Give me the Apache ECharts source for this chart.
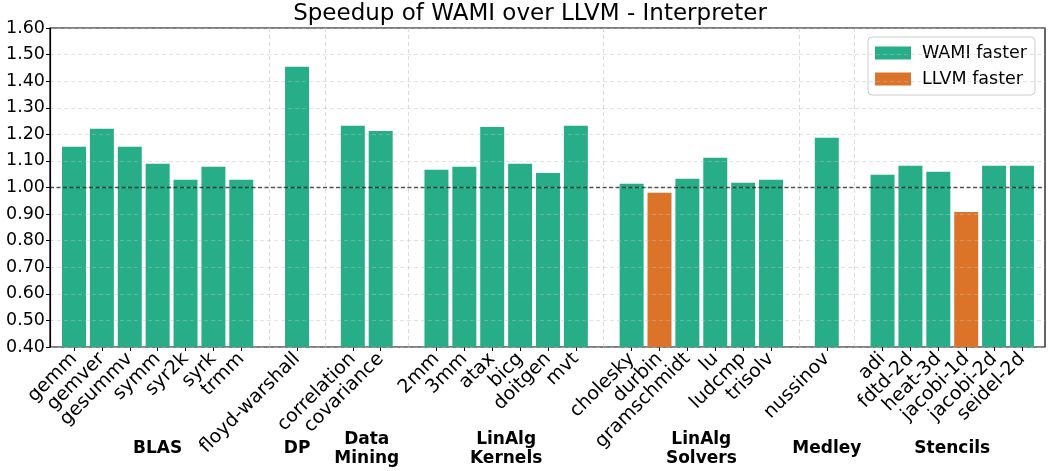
<!DOCTYPE html>
<html>
<head>
<meta charset="utf-8">
<script src="https://cdn.jsdelivr.net/npm/echarts@6/dist/echarts.min.js"></script>
<style>html,body{margin:0;padding:0;background:#fff}#c{width:1049px;height:471px}</style>
</head>
<body>
<div id="c"></div>
<script>
// ---- data ----
const groupNames = ['BLAS', 'DP', 'Data\nMining', 'LinAlg\nKernels', 'LinAlg\nSolvers', 'Medley', 'Stencils'];
const groupBenchmarks = [
  ['gemm', 'gemver', 'gesummv', 'symm', 'syr2k', 'syrk', 'trmm'],
  ['floyd-warshall'],
  ['correlation', 'covariance'],
  ['2mm', '3mm', 'atax', 'bicg', 'doitgen', 'mvt'],
  ['cholesky', 'durbin', 'gramschmidt', 'lu', 'ludcmp', 'trisolv'],
  ['nussinov'],
  ['adi', 'fdtd-2d', 'heat-3d', 'jacobi-1d', 'jacobi-2d', 'seidel-2d']
];
const groupSpeedups = [
  [1.153, 1.221, 1.153, 1.089, 1.029, 1.078, 1.029],
  [1.454],
  [1.232, 1.213],
  [1.067, 1.078, 1.228, 1.089, 1.055, 1.232],
  [1.014, 0.980, 1.033, 1.112, 1.018, 1.029],
  [1.187],
  [1.048, 1.082, 1.059, 0.908, 1.082, 1.082]
];
const yTicks = { min: 0.4, max: 1.6, step: 0.1 };
const legendNames = ['WAMI faster', 'LLVM faster'];

// ---- build flat category list with gap slots between groups ----
const categories = [];
const speedup = [];
const gapIdx = [];
const groupRanges = [];
groupBenchmarks.forEach((names, g) => {
  if (g > 0) { gapIdx.push(categories.length); categories.push(''); speedup.push(null); }
  const start = categories.length;
  names.forEach((n, i) => { categories.push(n); speedup.push(groupSpeedups[g][i]); });
  groupRanges.push([start, categories.length - 1]);
});
const fasterW = speedup.map(v => (v != null && v >= 1) ? v : null);
const fasterL = speedup.map(v => (v != null && v < 1) ? v : null);

const GREEN = '#27ad88', ORANGE = '#db7428';
const FONT = 'DejaVu Sans';
const chart = echarts.init(document.getElementById('c'), null, { renderer: 'canvas' });

const option = {
  animation: false,
  backgroundColor: '#fff',
  textStyle: { fontFamily: FONT },
  title: {
    text: 'Speedup of WAMI over LLVM - Interpreter',
    left: 530, top: 3, padding: 0, textAlign: 'center',
    textStyle: { fontFamily: FONT, fontSize: 23, fontWeight: 'normal', color: '#000' }
  },
  legend: {
    data: legendNames,
    orient: 'vertical',
    left: 868, top: 37,
    itemWidth: 36, itemHeight: 13, itemGap: 8,
    icon: 'rect',
    padding: [7, 8, 7, 7],
    borderColor: '#cccccc', borderWidth: 1, borderRadius: 4,
    backgroundColor: 'rgba(255,255,255,0.85)',
    textStyle: { fontFamily: FONT, fontSize: 17.5, color: '#000', padding: [0, 0, 0, 6] }
  },
  grid: [
    { left: 60.06, right: 13.1, top: 28, bottom: 124 },
    { left: 50, right: 4, top: 28, bottom: 124, show: true, borderColor: '#000', borderWidth: 1.2, backgroundColor: 'transparent' }
  ],
  xAxis: [
    {
      type: 'category', gridIndex: 0, data: categories,
      axisLine: { show: false },
      axisTick: {
        show: true, alignWithLabel: true, length: 4, inside: false,
        interval: (i) => gapIdx.indexOf(i) < 0,
        lineStyle: { color: '#000', width: 1 }
      },
      axisLabel: { interval: 0, rotate: 45, fontSize: 19, color: '#000', margin: 9, fontFamily: FONT },
      splitLine: { show: false }
    },
    { type: 'value', gridIndex: 1, min: 0, max: 1, show: false }
  ],
  yAxis: [
    { type: 'value', gridIndex: 0, min: yTicks.min, max: yTicks.max, interval: yTicks.step, show: false },
    {
      type: 'value', gridIndex: 1, min: yTicks.min, max: yTicks.max, interval: yTicks.step,
      z: 5,
      axisLine: { show: true, lineStyle: { color: '#000', width: 1.2 } },
      axisTick: { show: true, length: 4, lineStyle: { color: '#000' } },
      axisLabel: { fontSize: 17.5, color: '#000', margin: 5, fontFamily: FONT, formatter: v => v.toFixed(2) },
      splitLine: { show: true, lineStyle: { color: 'rgba(190,190,190,0.45)', type: [4, 3], width: 1 } }
    }
  ],
  series: [
    {
      name: legendNames[0], type: 'bar', xAxisIndex: 0, yAxisIndex: 0,
      data: fasterW, barWidth: '86%', barGap: '-100%',
      itemStyle: { color: GREEN }, z: 2,
      markLine: {
        silent: true, symbol: 'none', label: { show: false },
        lineStyle: { color: 'rgba(190,190,190,0.55)', type: [4, 3], width: 1 },
        data: gapIdx.map(i => ({ xAxis: i }))
      }
    },
    {
      name: legendNames[1], type: 'bar', xAxisIndex: 0, yAxisIndex: 0,
      data: fasterL, barWidth: '86%', barGap: '-100%',
      itemStyle: { color: ORANGE }, z: 2
    },
    {
      name: 'ref', type: 'line', xAxisIndex: 1, yAxisIndex: 1, data: [], z: 10,
      markLine: {
        silent: true, symbol: 'none', label: { show: false },
        lineStyle: { color: 'rgba(0,0,0,0.65)', type: [4, 2.5], width: 1.3 },
        data: [{ yAxis: 1 }]
      }
    }
  ]
};
chart.setOption(option);

// group labels centered under each group, positions from the axis scale
const labels = groupRanges.map((r, g) => {
  const x0 = chart.convertToPixel({ xAxisIndex: 0 }, r[0]);
  const x1 = chart.convertToPixel({ xAxisIndex: 0 }, r[1]);
  return {
    type: 'text', x: (x0 + x1) / 2, y: 449,
    style: {
      text: groupNames[g], fill: '#000', align: 'center', verticalAlign: 'middle',
      font: 'bold 17px "DejaVu Sans"', lineHeight: 19
    }
  };
});
chart.setOption({ graphic: labels });
</script>
</body>
</html>
